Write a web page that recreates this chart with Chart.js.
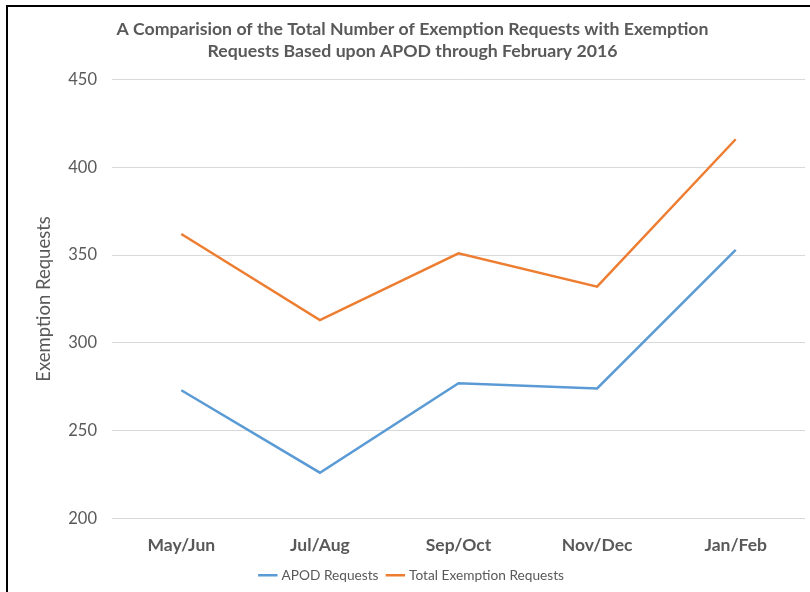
<!DOCTYPE html>
<html><head><meta charset="utf-8">
<script src="https://cdn.jsdelivr.net/npm/chart.js@4"></script>
<style>
html,body{margin:0;padding:0;background:#fff;}
#wrap{position:absolute;left:0;top:0;width:810px;height:592px;}
#frame{position:absolute;left:6px;top:5px;width:804px;height:587px;border-left:2px solid #000;border-top:2px solid #000;pointer-events:none;}
canvas{position:absolute;left:0;top:0;}
</style></head>
<body>
<div id="wrap"><canvas id="c" width="810" height="592"></canvas><div id="frame"></div></div>
<script>
const categories = ["May/Jun","Jul/Aug","Sep/Oct","Nov/Dec","Jan/Feb"];
const apodRequests = [273,226,277,274,353];
const totalExemptionRequests = [362,313,351,332,416];
const titleLines = ["A Comparision of the Total Number of Exemption Requests with Exemption","Requests Based upon APOD through February 2016"];
const yTicks = [200,250,300,350,400,450];

const FONT = "Lato, 'Open Sans', sans-serif";
new Chart(document.getElementById('c'), {
  type: 'line',
  data: {
    labels: categories,
    datasets: [
      {label: 'APOD Requests', data: apodRequests, borderColor: '#5B9BD5', backgroundColor: '#5B9BD5', borderWidth: 2.5, pointRadius: 0, tension: 0},
      {label: 'Total Exemption Requests', data: totalExemptionRequests, borderColor: '#ED7D31', backgroundColor: '#ED7D31', borderWidth: 2.5, pointRadius: 0, tension: 0}
    ]
  },
  options: {
    responsive: false,
    animation: false,
    devicePixelRatio: 1,
    layout: {padding: {left: 20, right: 5, top: 0, bottom: 0}},
    plugins: {
      title: {display: true, text: titleLines, color: '#595959', font: {family: FONT, size: 17.7, weight: 'bold', lineHeight: 1.26}, padding: {top: 18, bottom: 17}},
      legend: {position: 'bottom', labels: {color: '#595959', font: {family: FONT, size: 13.7}, usePointStyle: true, pointStyle: 'line', boxWidth: 28, padding: 10}},
      tooltip: {enabled: false}
    },
    scales: {
      x: {
        offset: true,
        grid: {display: false},
        border: {display: false},
        ticks: {color: '#595959', font: {family: FONT, size: 17.5, weight: 'bold'}, padding: 9},
        afterFit: s => { s.height = 40; }
      },
      y: {
        min: 200, max: 450,
        afterBuildTicks: s => { s.ticks = yTicks.map(v => ({value: v})); },
        grid: {color: '#D9D9D9', drawTicks: false},
        border: {display: false},
        ticks: {color: '#595959', font: {family: FONT, size: 16.5}, padding: 15},
        title: {display: true, text: 'Exemption Requests', color: '#595959', font: {family: FONT, size: 18.5}, padding: {top: 13, bottom: 0}},
        afterFit: s => { s.width = 92; }
      }
    }
  }
});
</script>
</body></html>
